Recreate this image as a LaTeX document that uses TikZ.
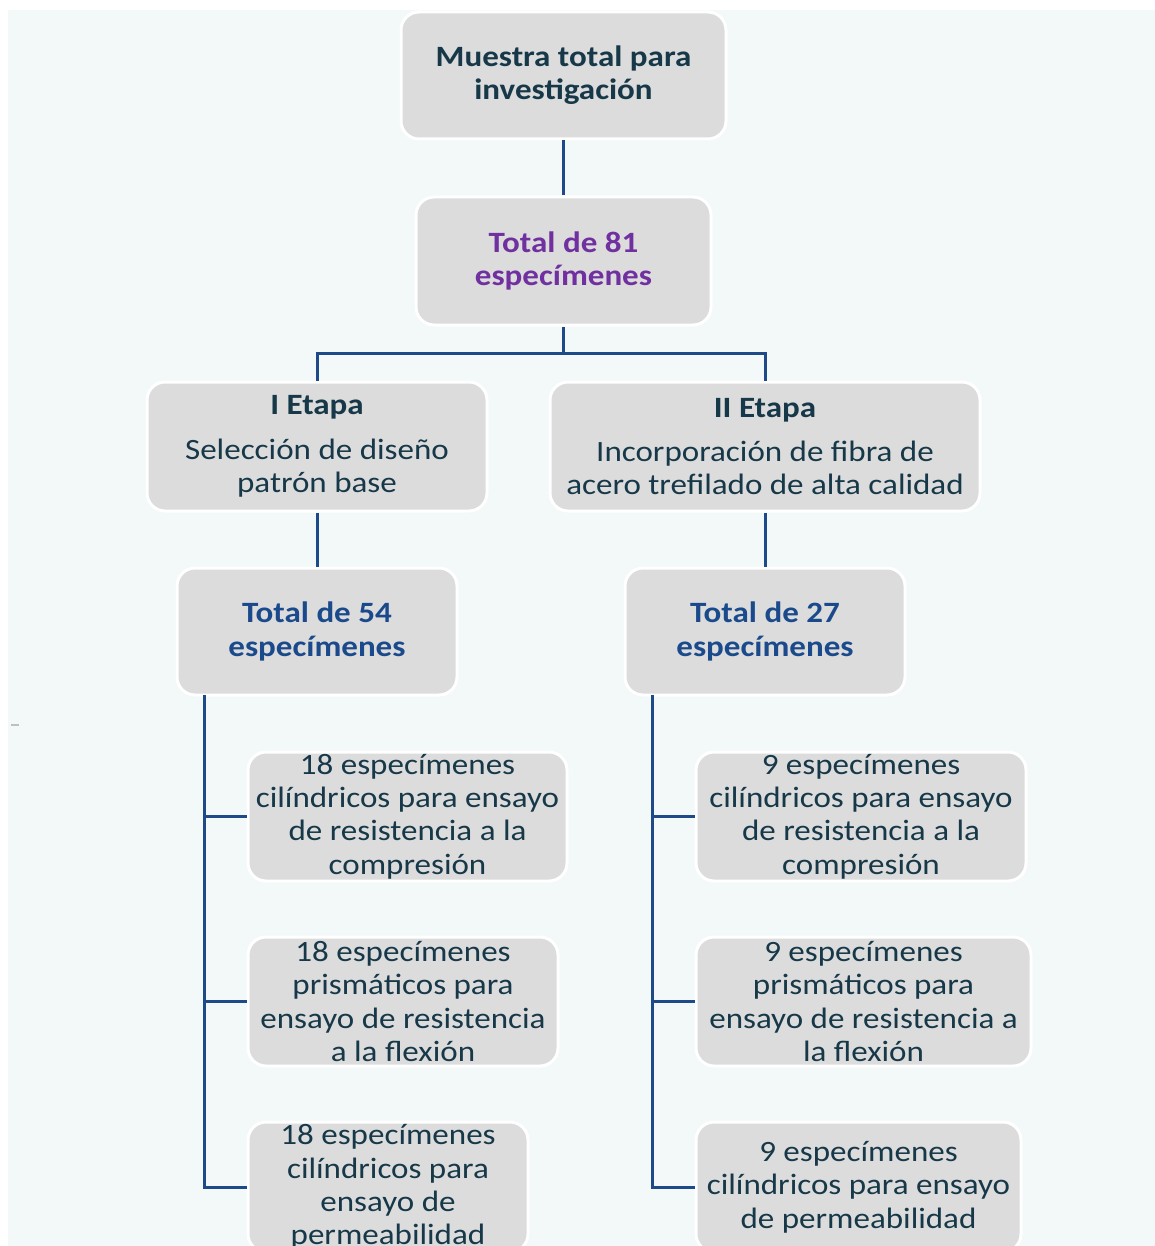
\documentclass[tikz,border=0pt]{standalone}
\usepackage{fontspec}
\setmainfont{Carlito}[FakeStretch=1.12]
\definecolor{bgc}{HTML}{F3F8F9}
\definecolor{boxc}{HTML}{DCDCDC}
\definecolor{txtc}{HTML}{173848}
\definecolor{purp}{HTML}{7030A0}
\definecolor{blu}{HTML}{1A4A8C}
\definecolor{linec}{HTML}{1F4A8A}
\begin{document}
\begin{tikzpicture}[x=1pt,y=-1pt,
  box/.style={fill=boxc, draw=white, line width=3pt, rounded corners=18pt,
    inner sep=0pt, align=center, text=txtc,
    font=\fontsize{29.5}{33.3}\selectfont,
    execute at begin node={\rule{0pt}{26.5pt}}},
  conn/.style={draw=linec, line width=3pt}]
\useasboundingbox (0,0) rectangle (1155,1246);
\fill[white] (0,0) rectangle (1155,1246);
\fill[bgc] (8,10) rectangle (1155,1246);
\draw[gray!50, line width=2pt] (11,725) -- (19,725);

\node[box, minimum width=325pt, minimum height=127pt] (top) at (563.5,75.5)
  {\textbf{Muestra total para}\\\textbf{investigación}};
\node[box, minimum width=295pt, minimum height=128pt, text=purp] (t81) at (563.5,261)
  {\textbf{Total de 81}\\\textbf{especímenes}};
\node[box, minimum width=340pt, minimum height=129pt] (e1) at (317,446.5)
  {\textbf{I Etapa}\\[11pt]Selección de diseño\\patrón base};
\node[box, minimum width=430pt, minimum height=129pt] (e2) at (765,446.5)
  {\textbf{II Etapa}\\[11pt]Incorporación de fibra de\\acero trefilado de alta calidad};
\node[box, minimum width=280pt, minimum height=127pt, text=blu] (t54) at (317,631.5)
  {\textbf{Total de 54}\\\textbf{especímenes}};
\node[box, minimum width=280pt, minimum height=127pt, text=blu] (t27) at (765,631.5)
  {\textbf{Total de 27}\\\textbf{especímenes}};

\node[box, minimum width=319pt, minimum height=129pt] (a1) at (407.5,816.5)
  {18 especímenes\\cilíndricos para ensayo\\de resistencia a la\\compresión};
\node[box, minimum width=310pt, minimum height=129pt] (a2) at (403,1001.5)
  {18 especímenes\\prismáticos para\\ensayo de resistencia\\a la flexión};
\node[box, minimum width=280pt, minimum height=130pt] (a3) at (388,1187)
  {18 especímenes\\cilíndricos para\\ensayo de\\permeabilidad};

\node[box, minimum width=330pt, minimum height=129pt] (b1) at (861,816.5)
  {9 especímenes\\cilíndricos para ensayo\\de resistencia a la\\compresión};
\node[box, minimum width=335pt, minimum height=129pt] (b2) at (863.5,1001.5)
  {9 especímenes\\prismáticos para\\ensayo de resistencia a\\la flexión};
\node[box, minimum width=325pt, minimum height=130pt] (b3) at (858.5,1187)
  {9 especímenes\\cilíndricos para ensayo\\de permeabilidad};

\coordinate (fork) at (563.5,353);
\coordinate (lx) at (204,695);
\coordinate (rx) at (652,695);

\draw[conn] (top.south) -- (t81.north);
\draw[conn] (t81.south) -- (fork);
\draw[conn] (fork) -| (e1.north);
\draw[conn] (fork) -| (e2.north);
\draw[conn] (e1.south) -- (t54.north);
\draw[conn] (e2.south) -- (t27.north);
\draw[conn] (lx) |- (a3.west);
\draw[conn] (a1.west -| lx) -- (a1.west);
\draw[conn] (a2.west -| lx) -- (a2.west);
\draw[conn] (rx) |- (b3.west);
\draw[conn] (b1.west -| rx) -- (b1.west);
\draw[conn] (b2.west -| rx) -- (b2.west);
\end{tikzpicture}
\end{document}
